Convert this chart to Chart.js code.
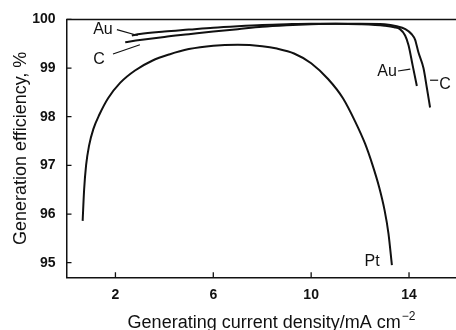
<!DOCTYPE html>
<html>
<head>
<meta charset="utf-8">
<script src="https://cdn.jsdelivr.net/npm/chart.js@4/dist/chart.umd.min.js"></script>
<style>
  html, body { margin: 0; padding: 0; background: #fff; }
  #wrap { width: 456px; height: 330px; }
</style>
</head>
<body>
<div id="wrap"><canvas id="eff"></canvas></div>
<script>
// current density (mA cm-2) and generation efficiency (%)
const ptX = [0.66, 0.72, 0.8, 0.92, 1.1, 1.35, 1.7, 2.2, 2.8, 3.5, 4.2, 5, 6, 7, 8, 8.6, 9.3, 10, 10.7, 11.3, 11.8, 12.2, 12.5, 12.78, 13.0, 13.16, 13.3];
const ptY = [95.86, 96.5, 97.0, 97.4, 97.75, 98.05, 98.38, 98.7, 98.95, 99.15, 99.28, 99.39, 99.46, 99.48, 99.45, 99.4, 99.3, 99.1, 98.77, 98.38, 97.9, 97.45, 97.02, 96.55, 96.08, 95.6, 94.95];

const auX = [2.67, 3, 4, 5, 6, 7, 8, 9, 10, 11, 12, 13, 13.4, 13.63, 13.84, 13.98, 14.15, 14.32];
const auY = [99.67, 99.7, 99.75, 99.79, 99.83, 99.86, 99.885, 99.9, 99.91, 99.91, 99.9, 99.87, 99.84, 99.8, 99.67, 99.47, 99.05, 98.63];

const cX = [2.4, 3, 4, 5, 6, 7, 8, 9, 10, 11, 12, 13, 13.5, 13.85, 14.1, 14.25, 14.38, 14.59, 14.73, 14.86];
const cY = [99.53, 99.575, 99.64, 99.695, 99.75, 99.8, 99.85, 99.88, 99.9, 99.91, 99.91, 99.9, 99.86, 99.8, 99.7, 99.58, 99.33, 99.0, 98.59, 98.19];

const xTicks = [2, 6, 10, 14];
const yTicks = [95, 96, 97, 98, 99, 100];

// curve names with text anchor and leader line, in data units
const curveLabels = [
  { text: 'Au', x: 1.49, y: 99.79, from: [2.06, 99.79], to: [2.91, 99.67] },
  { text: 'C', x: 1.33, y: 99.18, from: [1.9, 99.29], to: [3.0, 99.48] },
  { text: 'Au', x: 13.1, y: 98.93, from: [13.55, 98.94], to: [14.05, 98.98] },
  { text: 'C', x: 15.47, y: 98.67, from: [14.86, 98.75], to: [15.19, 98.75] },
  { text: 'Pt', x: 12.49, y: 95.03 }
];

const INK = '#111';
const FONT = 'Liberation Sans, Arial, Helvetica, sans-serif';

const pairs = (xs, ys) => xs.map((v, i) => ({ x: v, y: ys[i] }));

function series(label, xs, ys) {
  return {
    label,
    data: pairs(xs, ys),
    borderColor: INK,
    borderWidth: 2,
    pointRadius: 0,
    fill: false,
    cubicInterpolationMode: 'monotone'
  };
}

const frameMarks = {
  id: 'frameMarks',
  afterDraw(chart) {
    const { ctx, chartArea: a, scales: { x, y } } = chart;
    ctx.save();
    ctx.strokeStyle = INK;
    ctx.lineWidth = 1.5;
    ctx.beginPath();
    ctx.moveTo(a.left, a.top);
    ctx.lineTo(a.right, a.top);
    ctx.stroke();

    // tick marks point into the plot
    ctx.lineWidth = 1.3;
    ctx.beginPath();
    xTicks.forEach(v => {
      const px = x.getPixelForValue(v);
      ctx.moveTo(px, a.bottom);
      ctx.lineTo(px, a.bottom - 5);
    });
    yTicks.forEach(v => {
      const py = y.getPixelForValue(v);
      ctx.moveTo(a.left, py);
      ctx.lineTo(a.left + 5, py);
    });
    ctx.stroke();

    // curve names
    ctx.fillStyle = INK;
    ctx.font = '16px ' + FONT;
    ctx.textAlign = 'center';
    ctx.textBaseline = 'middle';
    ctx.lineWidth = 1.2;
    curveLabels.forEach(l => {
      ctx.fillText(l.text, x.getPixelForValue(l.x), y.getPixelForValue(l.y));
      if (l.from) {
        ctx.beginPath();
        ctx.moveTo(x.getPixelForValue(l.from[0]), y.getPixelForValue(l.from[1]));
        ctx.lineTo(x.getPixelForValue(l.to[0]), y.getPixelForValue(l.to[1]));
        ctx.stroke();
      }
    });

    // x axis title with superscript
    const main = 'Generating current density/mA cm';
    const sup = '\u22122';
    ctx.font = '18px ' + FONT;
    ctx.textAlign = 'left';
    ctx.textBaseline = 'alphabetic';
    const wMain = ctx.measureText(main).width;
    ctx.font = '12px ' + FONT;
    const wSup = ctx.measureText(sup).width;
    const startX = 271 - (wMain + wSup) / 2;
    ctx.font = '18px ' + FONT;
    ctx.fillText(main, startX, 327.5);
    ctx.font = '12px ' + FONT;
    ctx.fillText(sup, startX + wMain + 1, 320);
    ctx.restore();
  }
};

new Chart(document.getElementById('eff').getContext('2d'), {
  type: 'line',
  data: {
    datasets: [
      series('Pt', ptX, ptY),
      series('Au', auX, auY),
      series('C', cX, cY)
    ]
  },
  plugins: [frameMarks],
  options: {
    responsive: true,
    maintainAspectRatio: false,
    animation: false,
    layout: { padding: { top: 15.4, right: 0, left: 0, bottom: 0 } },
    plugins: { legend: { display: false }, tooltip: { enabled: false } },
    scales: {
      x: {
        type: 'linear',
        min: 0,
        max: 15.92,
        afterBuildTicks: s => { s.ticks = xTicks.map(v => ({ value: v })); },
        afterFit: s => { s.height = 52.7; },
        grid: { display: false, drawTicks: false },
        border: { display: true, color: INK, width: 1.5 },
        ticks: { color: INK, padding: 9.3, font: { family: FONT, size: 14, weight: 'bold' } }
      },
      y: {
        min: 94.7,
        max: 100,
        afterBuildTicks: s => { s.ticks = yTicks.map(v => ({ value: v })); },
        afterFit: s => { s.width = 66.5; },
        grid: { display: false, drawTicks: false },
        border: { display: true, color: INK, width: 1.5 },
        ticks: { color: INK, padding: 11, font: { family: FONT, size: 14, weight: 'bold' } },
        title: {
          display: true,
          text: 'Generation efficiency, %',
          color: INK,
          font: { family: FONT, size: 18 },
          padding: { top: 10.7, bottom: 0 }
        }
      }
    }
  }
});
</script>
</body>
</html>
